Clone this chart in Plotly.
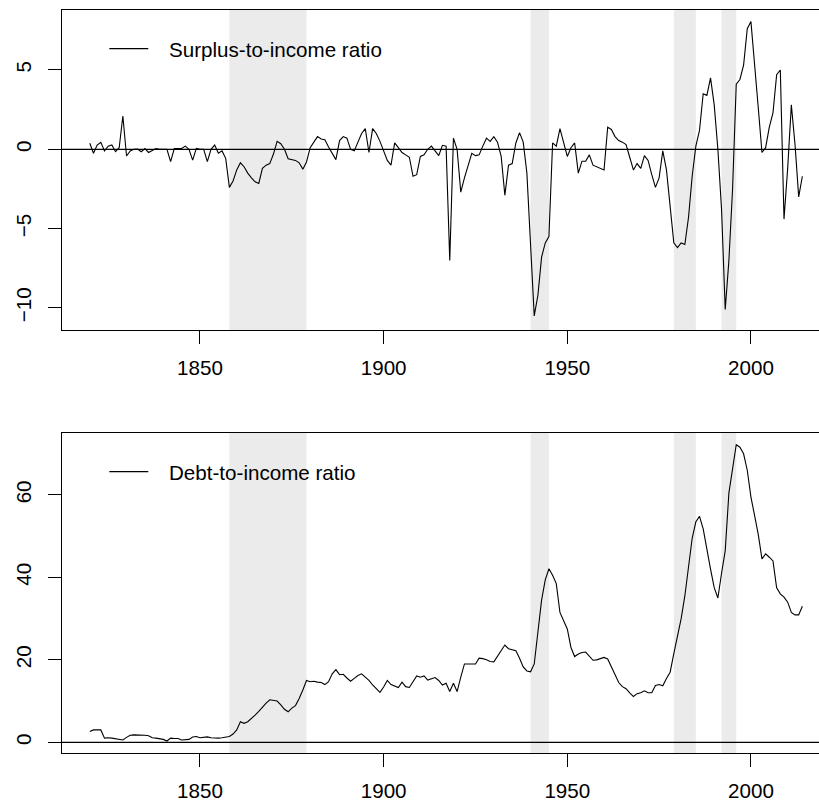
import plotly.graph_objects as go

# ---------------- data ----------------
years = list(range(1820, 2015))

surplus = [
    0.38, -0.25, 0.27, 0.44, -0.10, 0.20, 0.27, -0.15, 0.10, 2.10,      # 1820s
    -0.42, -0.10, 0.00, 0.02, -0.15, 0.05, -0.20, -0.10, 0.05, 0.00,    # 1830s
    0.00, 0.00, -0.78, 0.05, 0.05, 0.05, 0.20, 0.00, -0.68, 0.06,       # 1840s
    0.00, 0.00, -0.78, 0.00, 0.27, -0.25, -0.10, -0.57, -2.40, -2.00,   # 1850s
    -1.30, -0.85, -1.10, -1.50, -1.80, -2.05, -2.15, -1.20, -1.00, -0.90,  # 1860s
    -0.30, 0.50, 0.35, 0.00, -0.60, -0.65, -0.70, -0.85, -1.25, -0.80,  # 1870s
    0.10, 0.45, 0.80, 0.65, 0.60, 0.15, -0.30, -0.65, 0.55, 0.80,       # 1880s
    0.70, 0.00, -0.10, 0.40, 1.00, 1.30, -0.20, 1.30, 1.00, 0.50,       # 1890s
    -0.10, -0.70, -1.00, 0.40, 0.10, -0.20, -0.35, -0.50, -1.70, -1.60, # 1900s
    -0.45, -0.35, 0.00, 0.20, -0.10, -0.40, 0.25, 0.20, -7.00, 0.70,    # 1910s
    0.00, -2.70, -1.80, -1.00, -0.25, -0.40, -0.35, 0.20, 0.70, 0.50,   # 1920s
    0.80, 0.45, -0.45, -2.90, -1.00, -0.90, 0.40, 1.05, 0.45, -1.50,    # 1930s
    -6.00, -10.50, -9.20, -6.80, -5.90, -5.50, 0.40, 0.20, 1.30, 0.40,  # 1940s
    -0.45, 0.10, 0.40, -1.50, -0.75, -0.75, -0.35, -1.00, -1.10, -1.20, # 1950s
    -1.30, 1.40, 1.25, 0.80, 0.55, 0.45, 0.30, -0.50, -1.30, -0.90,     # 1960s
    -1.20, -0.40, -0.70, -1.60, -2.40, -1.80, -0.10, -1.30, -3.60, -5.90,  # 1970s
    -6.20, -5.90, -6.00, -4.30, -1.70, 0.20, 1.20, 3.50, 3.40, 4.50,    # 1980s
    2.80, 0.00, -3.80, -10.10, -7.00, -2.50, 4.10, 4.40, 5.30, 7.60,    # 1990s
    8.05, 5.50, 2.60, -0.20, 0.10, 1.40, 2.30, 4.70, 5.00, -4.40,       # 2000s
    -1.20, 2.80, 0.30, -3.00, -1.70,                                    # 2010s
]

debt = [
    2.6, 3.0, 3.0, 3.0, 1.0, 1.1, 1.0, 0.9, 0.7, 0.55,          # 1820s
    1.2, 1.7, 1.8, 1.8, 1.8, 1.7, 1.6, 1.1, 1.0, 0.9,           # 1830s
    0.7, 0.3, 1.0, 0.9, 0.9, 0.55, 0.6, 0.7, 1.3, 1.4,          # 1840s
    1.1, 1.2, 1.3, 1.1, 1.0, 1.0, 1.1, 1.2, 1.4, 2.0,           # 1850s
    3.0, 5.0, 4.6, 5.0, 5.7, 6.6, 7.5, 8.6, 9.5, 10.3,          # 1860s
    10.2, 10.0, 9.1, 8.0, 7.4, 8.3, 8.9, 10.6, 12.7, 15.0,      # 1870s
    14.7, 14.8, 14.6, 14.5, 14.0, 14.7, 16.6, 17.6, 16.4, 16.5, # 1880s
    15.6, 14.8, 15.5, 16.2, 16.6, 15.9, 15.0, 13.9, 13.0, 12.1, # 1890s
    13.4, 15.0, 14.0, 13.7, 13.3, 14.6, 13.5, 13.3, 14.8, 16.1, # 1900s
    15.8, 16.1, 15.1, 15.5, 15.7, 15.0, 13.9, 14.3, 12.3, 14.3, # 1910s
    12.3, 15.8, 19.0, 19.0, 19.0, 19.0, 20.4, 20.3, 20.0, 19.6, # 1920s
    19.5, 20.8, 22.3, 23.6, 22.7, 22.5, 22.2, 20.4, 18.3, 17.3, # 1930s
    17.1, 19.0, 27.5, 34.5, 39.4, 42.1, 40.5, 38.5, 31.5, 29.5, # 1940s
    27.5, 23.0, 20.8, 21.4, 21.8, 21.9, 21.0, 19.9, 20.0, 20.3, # 1950s
    20.6, 20.2, 18.3, 16.5, 14.5, 13.5, 13.0, 12.0, 11.1, 11.8, # 1960s
    12.0, 12.5, 12.0, 12.0, 13.8, 14.0, 13.7, 15.5, 17.0, 21.5, # 1970s
    26.0, 30.0, 35.5, 42.0, 49.5, 53.5, 54.8, 51.8, 46.5, 42.0, # 1980s
    37.5, 35.0, 41.0, 46.5, 60.5, 66.0, 72.2, 71.6, 70.0, 66.0, # 1990s
    59.5, 55.0, 50.4, 44.5, 45.7, 44.9, 44.0, 37.5, 36.0, 35.2, # 2000s
    34.0, 31.5, 30.9, 30.9, 33.0,                               # 2010s
]

band_starts = [1858, 1940, 1979, 1992]
band_ends = [1879, 1945, 1985, 1996]

x_ticks = [1850, 1900, 1950, 2000]
surplus_ticks = [-10, -5, 0, 5]
debt_ticks = [0, 20, 40, 60]
legend_labels = ["Surplus-to-income ratio", "Debt-to-income ratio"]

# ---------------- figure ----------------
FONT = dict(family="Liberation Sans, Arial, sans-serif", size=20.6, color="black")
LINE = dict(color="black", width=1.1)

fig = go.Figure()
fig.add_trace(go.Scatter(x=years, y=surplus, mode="lines", line=LINE,
                         xaxis="x", yaxis="y", showlegend=False, hoverinfo="skip"))
fig.add_trace(go.Scatter(x=years, y=debt, mode="lines", line=LINE,
                         xaxis="x2", yaxis="y2", showlegend=False, hoverinfo="skip"))

xcommon = dict(range=[1812.43, 2018.53], tickmode="array", tickvals=x_ticks,
               ticks="outside", ticklen=13, tickwidth=1, tickcolor="black",
               showline=True, linecolor="black", linewidth=1, mirror=True,
               showgrid=False, zeroline=False, tickfont=FONT,
               ticklabelstandoff=6, fixedrange=True, automargin=False)
ycommon = dict(tickmode="array", ticks="outside", ticklen=13, tickwidth=1,
               tickcolor="black", showline=True, linecolor="black", linewidth=1,
               mirror=False, showgrid=False, zeroline=False, tickfont=FONT,
               tickangle=-90, ticklabelstandoff=9, fixedrange=True,
               automargin=False)

fig.update_layout(
    width=819, height=802,
    margin=dict(l=62, r=0, t=10, b=49, pad=0, autoexpand=False),
    paper_bgcolor="white", plot_bgcolor="white",
    xaxis=dict(**xcommon, anchor="y", domain=[0, 1]),
    yaxis=dict(**ycommon, anchor="x", domain=[0.5693, 1.0],
               range=[-11.39, 8.78], tickvals=surplus_ticks),
    xaxis2=dict(**xcommon, anchor="y2", domain=[0, 1]),
    yaxis2=dict(**ycommon, anchor="x2", domain=[0.0, 0.4307],
                range=[-2.6, 75.04], tickvals=debt_ticks),
)

shapes = []
for xr, yr in (("x", "y"), ("x2", "y2")):
    for s, e in zip(band_starts, band_ends):
        shapes.append(dict(type="rect", xref=xr, yref=yr + " domain",
                           x0=s, x1=e, y0=0, y1=1, fillcolor="#EBEBEB",
                           line=dict(width=0), layer="below"))
    shapes.append(dict(type="line", xref=xr + " domain", yref=yr,
                       x0=0, x1=1, y0=0, y1=0,
                       line=dict(color="black", width=1.2), layer="above"))
    # legend key line
    shapes.append(dict(type="line", xref=xr + " domain", yref=yr + " domain",
                       x0=0.0625, x1=0.114, y0=0.879, y1=0.879,
                       line=dict(color="black", width=1.2)))
fig.update_layout(shapes=shapes)

annotations = []
for (xr, yr), label in zip((("x", "y"), ("x2", "y2")), legend_labels):
    annotations.append(dict(text=label, xref=xr + " domain", yref=yr + " domain",
                            x=0.1383, y=0.876, xanchor="left", yanchor="middle",
                            showarrow=False, font=FONT))
fig.update_layout(annotations=annotations)

fig.write_html(
    "out.html",
    config={"displayModeBar": False, "staticPlot": True},
    post_script="document.body.style.margin='0';document.body.style.padding='0';",
)
